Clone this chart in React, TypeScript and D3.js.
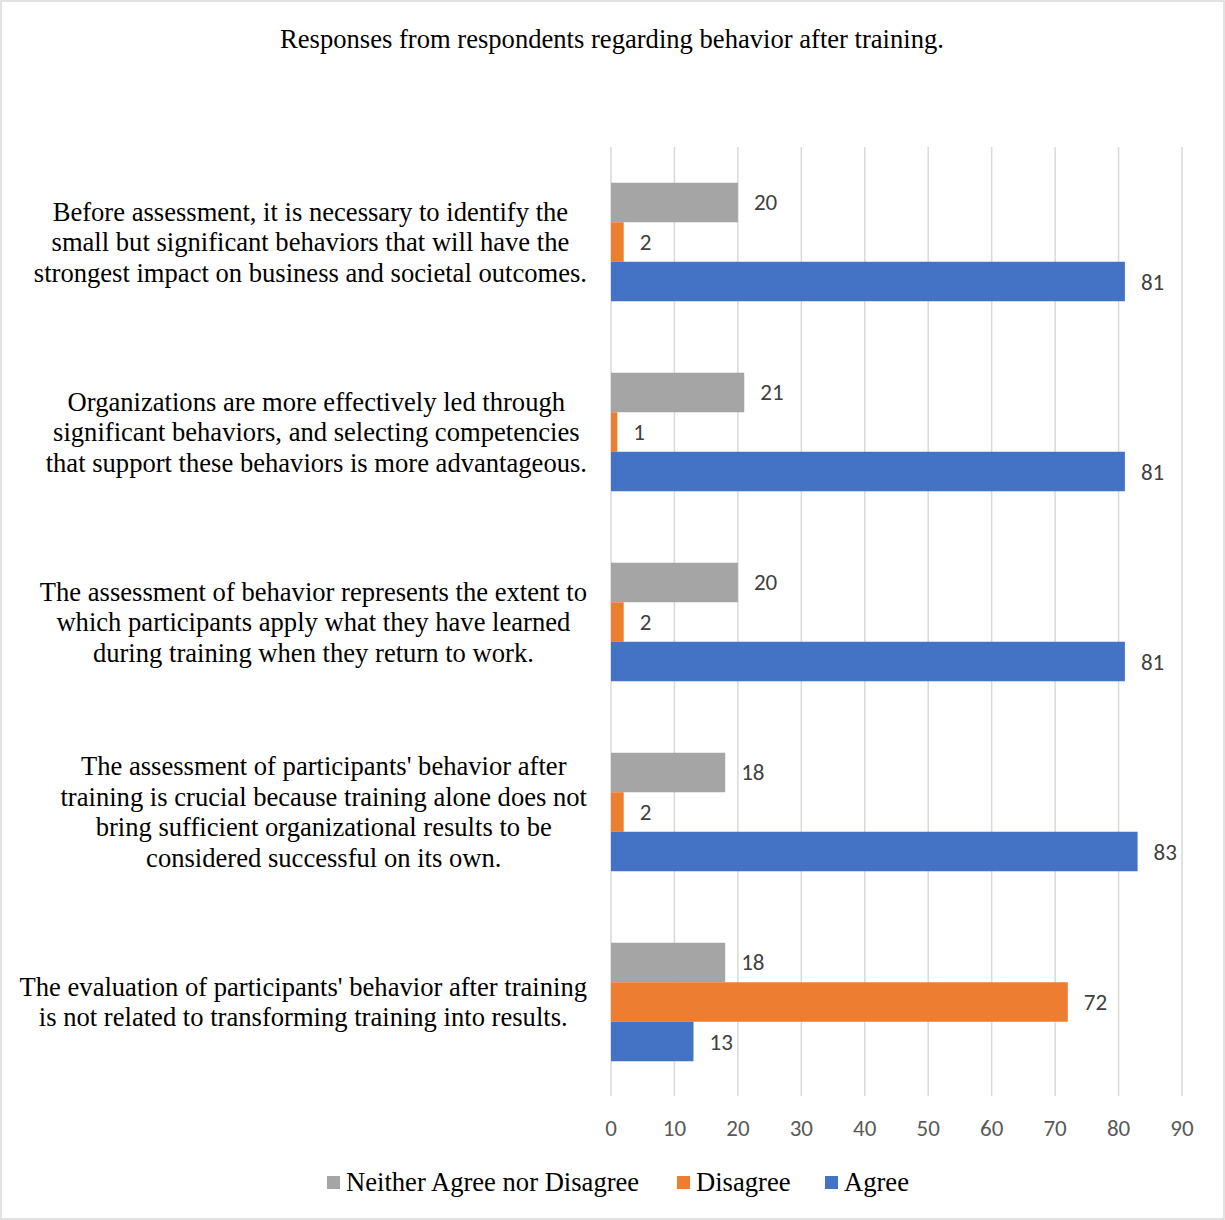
import React, { useMemo } from "react";
import * as d3 from "d3";

const categories: string[][] = [
  ["Before assessment, it is necessary to identify the", "small but significant behaviors that will have the", "strongest impact on business and societal outcomes."],
  ["Organizations are more effectively led through", "significant behaviors, and selecting competencies", "that support these behaviors is more advantageous."],
  ["The assessment of behavior represents the extent to", "which participants apply what they have learned", "during training when they return to work."],
  ["The assessment of participants' behavior after", "training is crucial because training alone does not", "bring sufficient organizational results to be", "considered successful on its own."],
  ["The evaluation of participants' behavior after training", "is not related to transforming training into results."],
];
const seriesNames = ["Neither Agree nor Disagree", "Disagree", "Agree"];
const neitherValues = [20, 21, 20, 18, 18];
const disagreeValues = [2, 1, 2, 2, 72];
const agreeValues = [81, 81, 81, 83, 13];
const xTicks = [0, 10, 20, 30, 40, 50, 60, 70, 80, 90];
const title = "Responses from respondents regarding behavior after training.";

const colors = ["#A5A5A5", "#ED7D31", "#4472C4"];
const serif = "'Liberation Serif', 'Times New Roman', serif";
const sans = "Carlito, 'Open Sans', 'Noto Sans', sans-serif";
const serifSize = 26.6;
const sansSize = 23;

function measure(text: string, font: string): number {
  const c = document.createElement("canvas");
  const ctx = c.getContext("2d")!;
  ctx.font = font;
  return ctx.measureText(text).width;
}

export default function App() {
  const W = 1225, H = 1220;
  const left = 611, right = 1182, top = 147, bottom = 1097;
  const x = d3.scaleLinear().domain([0, 90]).range([left, right]);
  const y = d3.scaleBand<number>().domain(categories.map((_, i) => i)).range([top, bottom]).paddingInner(0).paddingOuter(0);
  const inner = d3.scaleBand<number>().domain([0, 1, 2]).range([0, y.bandwidth()]).paddingInner(0).paddingOuter(0.905);
  const series = [neitherValues, disagreeValues, agreeValues];
  const widths = useMemo(() => categories.map(lines => Math.max(...lines.map(l => measure(l, `${serifSize}px 'Liberation Serif'`)))), []);
  const lineH = 30.5;

  const legendItems = [
    { name: seriesNames[0], x: 327 },
    { name: seriesNames[1], x: 677 },
    { name: seriesNames[2], x: 825 },
  ];

  return (
    <svg width={W} height={H} style={{ position: "absolute", left: 0, top: 0 }}>
      <rect x={0} y={0} width={W} height={H} fill="#fff" />
      <rect x={1} y={1} width={W - 2} height={H - 2} fill="none" stroke="#D9D9D9" strokeWidth={1.5} />
      <text x={612} y={39} textAnchor="middle" dominantBaseline="central" fontFamily={serif} fontSize={serifSize} fill="#000">{title}</text>
      {xTicks.map(t => (
        <line key={t} x1={x(t)} x2={x(t)} y1={top} y2={bottom - 1} stroke="#D9D9D9" strokeWidth={1.5} />
      ))}
      {xTicks.map(t => (
        <text key={"t" + t} x={x(t)} y={1128} textAnchor="middle" dominantBaseline="central" fontFamily={sans} fontSize={sansSize} fill="#595959">{t}</text>
      ))}
      {categories.map((lines, ci) => {
        const cy = (y(ci) as number) + y.bandwidth() / 2;
        const cx = 587 - widths[ci] / 2;
        return (
          <g key={ci}>
            {lines.map((l, li) => (
              <text key={li} x={cx} y={cy + (li - (lines.length - 1) / 2) * lineH} textAnchor="middle" dominantBaseline="central" fontFamily={serif} fontSize={serifSize} fill="#000">{l}</text>
            ))}
            {series.map((vals, si) => {
              const by = (y(ci) as number) + (inner(si) as number);
              const bh = inner.bandwidth();
              return (
                <g key={si}>
                  <rect x={x(0)} y={by} width={x(vals[ci]) - x(0)} height={bh} fill={colors[si]} />
                  <text x={x(vals[ci]) + 16} y={by + bh / 2} dominantBaseline="central" fontFamily={sans} fontSize={sansSize} fill="#404040">{vals[ci]}</text>
                </g>
              );
            })}
          </g>
        );
      })}
      {legendItems.map((it, i) => (
        <g key={i}>
          <rect x={it.x} y={1176} width={13} height={13} fill={colors[i]} />
          <text x={it.x + 19} y={1182} dominantBaseline="central" fontFamily={serif} fontSize={serifSize} fill="#000">{it.name}</text>
        </g>
      ))}
    </svg>
  );
}
